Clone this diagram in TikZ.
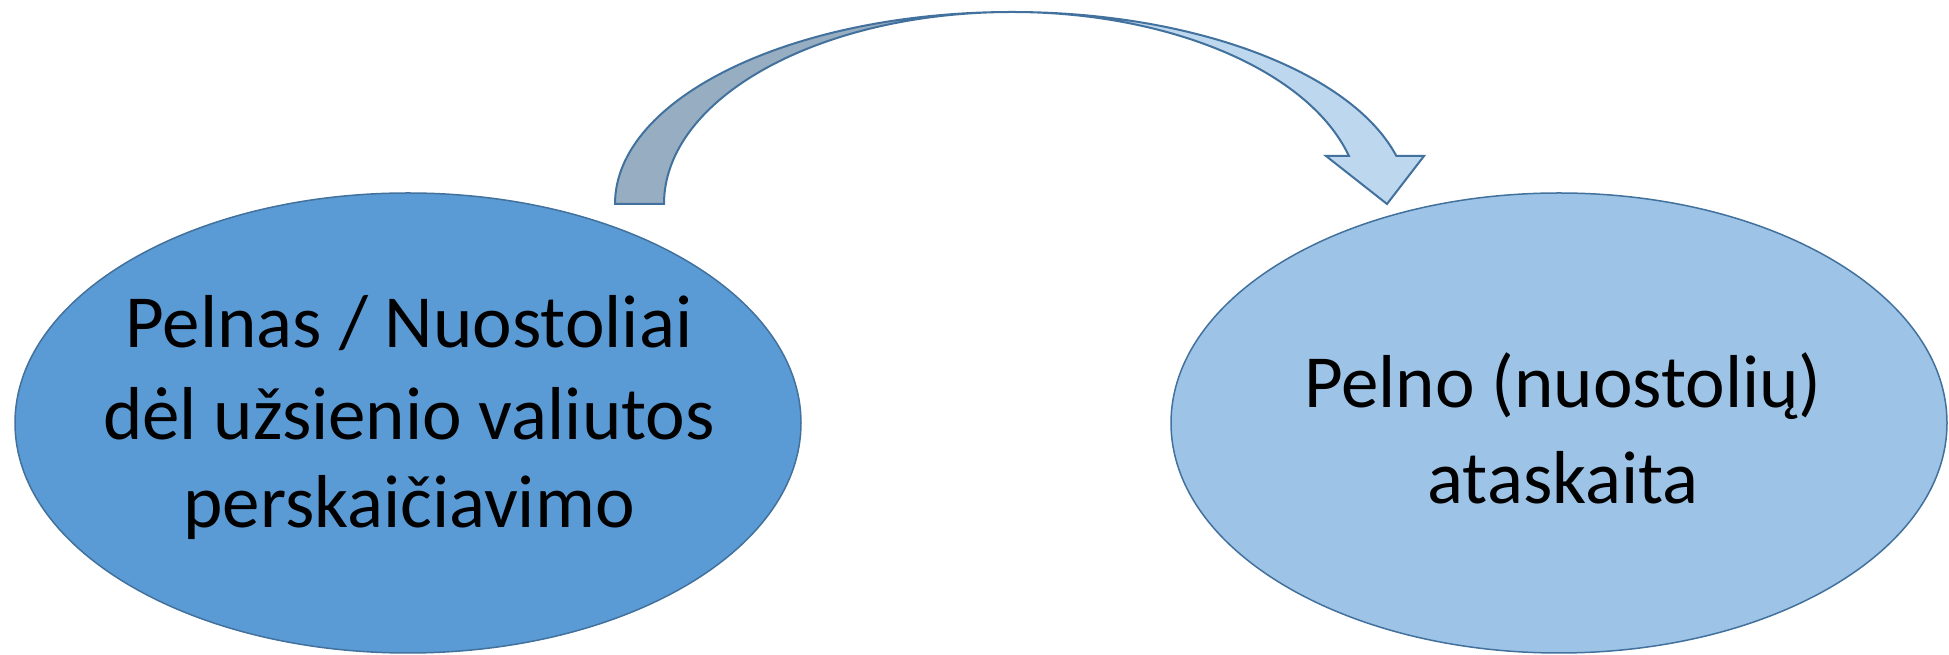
\documentclass[tikz,border=0pt]{standalone}
\usepackage{fontspec}
\setmainfont{Carlito}
\usetikzlibrary{shapes.geometric}
\definecolor{edgeblue}{HTML}{41719C}
\definecolor{leftfill}{HTML}{5B9BD5}
\definecolor{rightfill}{HTML}{9DC3E6}
\definecolor{backfill}{HTML}{97ADC1}
\definecolor{frontfill}{HTML}{BDD7EE}
\tikzset{
  bubble/.style={ellipse, draw=edgeblue, line width=1.5pt, inner sep=0pt, minimum height=460pt},
  lbl/.style={anchor=base, inner sep=0pt, font=\fontsize{75pt}{90pt}\selectfont, text=black},
  arrowpart/.style={draw=edgeblue, line width=2pt, line join=miter}
}
\begin{document}
\begin{tikzpicture}[x=1pt,y=1pt]
\useasboundingbox (0,0) rectangle (1949,655);
% curved arrow: back (dark) part
\path[arrowpart, fill=backfill] (615,451) arc[start angle=180, end angle=90, x radius=397pt, y radius=192pt]
  arc[start angle=90, end angle=180, x radius=348pt, y radius=192pt] -- cycle;
% front (light) part with head
\path[arrowpart, fill=frontfill] (1012,643) arc[start angle=90, end angle=14.48, x radius=397pt, y radius=192pt]
  -- (1424,499) -- (1387,451) -- (1326,499) -- (1348.9,499)
  arc[start angle=14.48, end angle=90, x radius=348pt, y radius=192pt] -- cycle;
% ellipses
\node[bubble, fill=leftfill, minimum width=786pt] (src) at (408,232) {};
\node[bubble, fill=rightfill, minimum width=776pt] (dst) at (1559,232) {};
% texts
\node[lbl] (s1) at (409,307) {Pelnas / Nuostoliai};
\node[lbl] (s2) at (409,215) {dėl užsienio valiutos};
\node[lbl] (s3) at (409,127) {perskaičiavimo};
\node[lbl] (d1) at (1563,247) {Pelno (nuostolių)};
\node[lbl] (d2) at (1563,151) {ataskaita};
\end{tikzpicture}
\end{document}
